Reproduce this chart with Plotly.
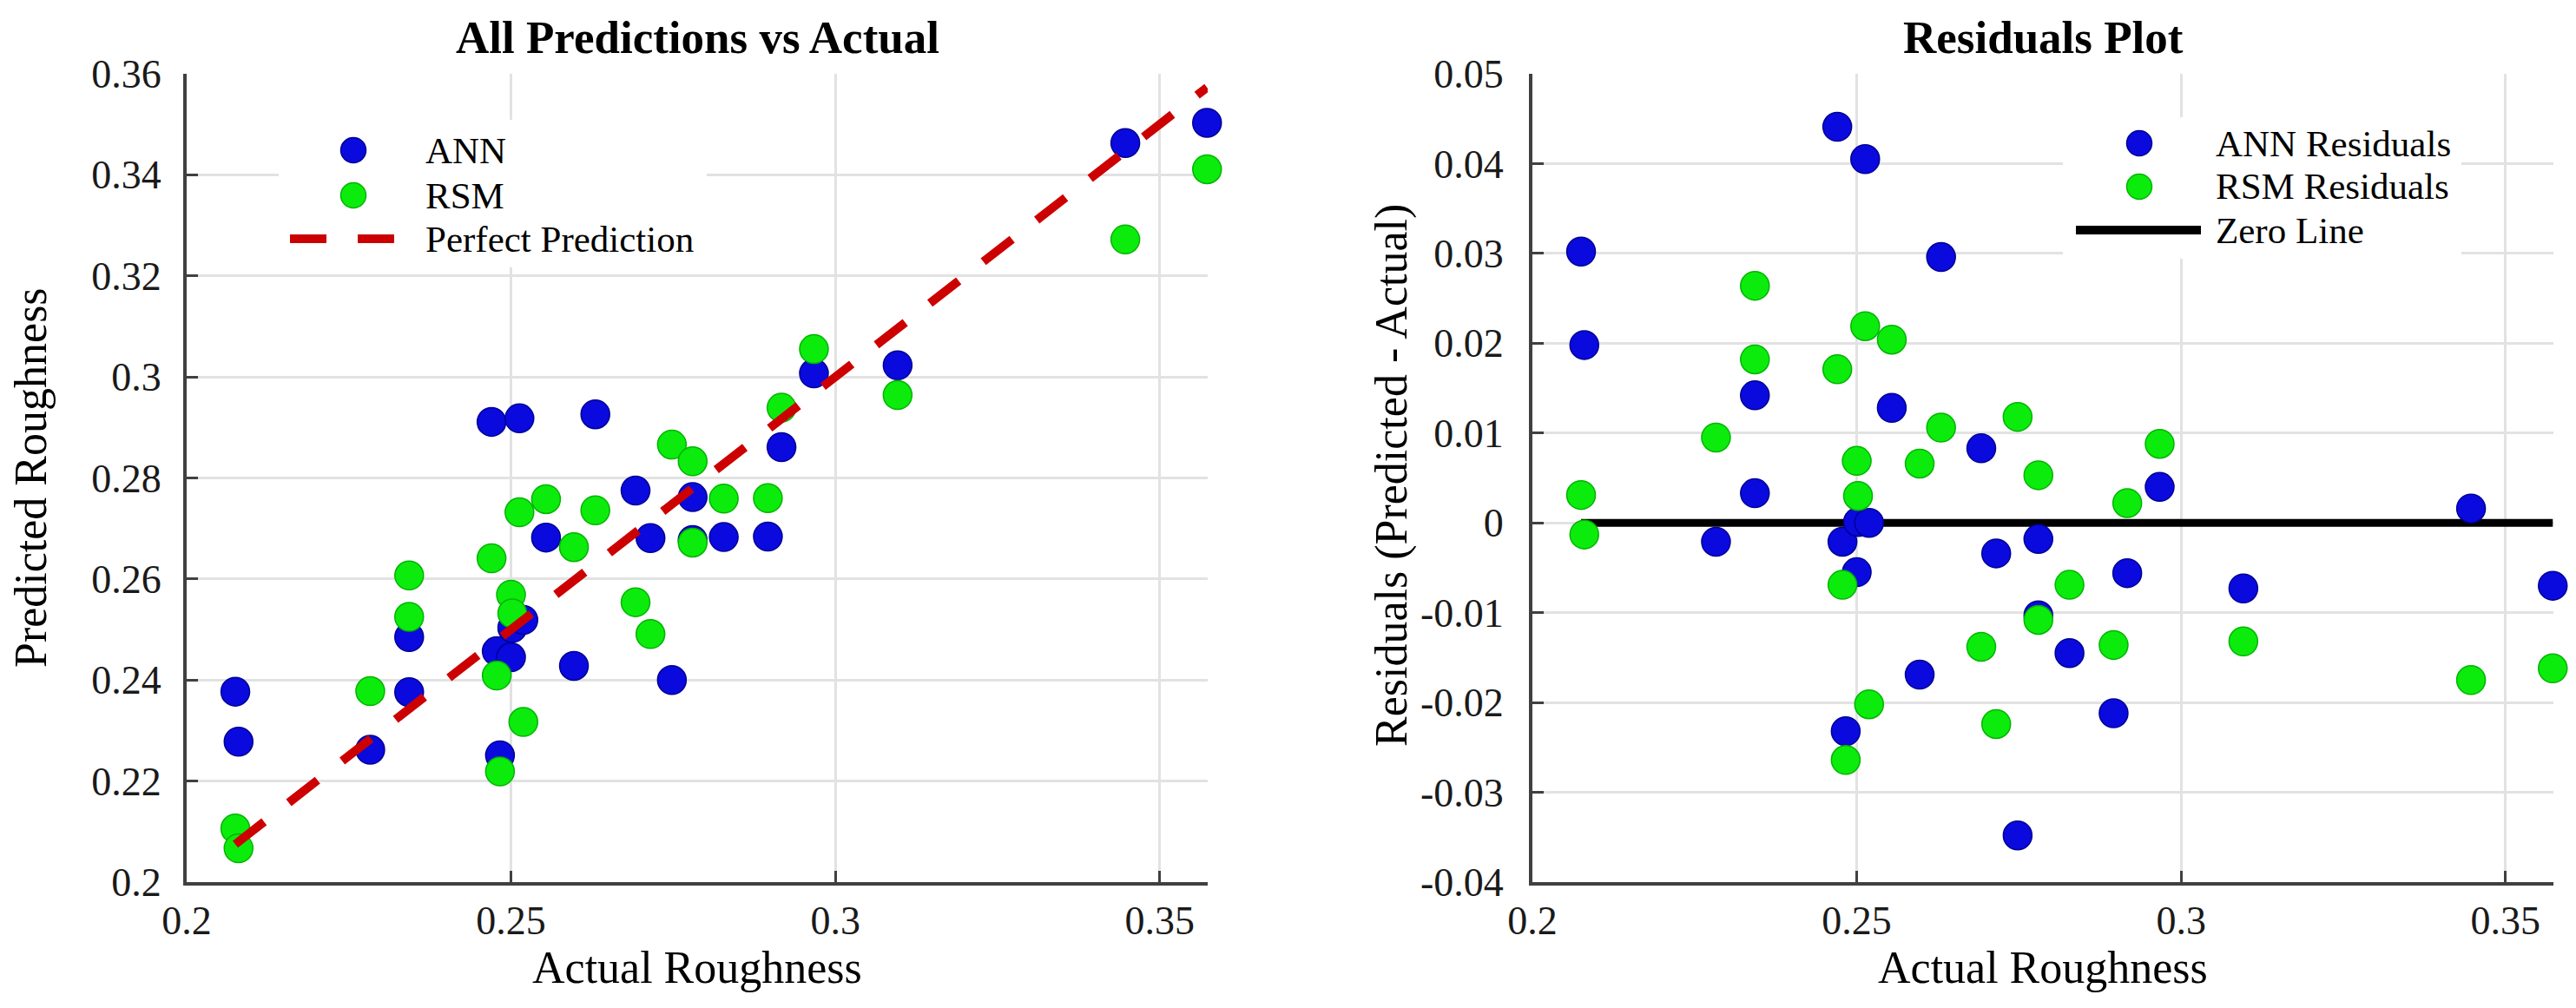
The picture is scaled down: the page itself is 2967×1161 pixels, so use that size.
import plotly.graph_objects as go

W, H = 2967, 1161

# 数据
actual = [0.2075, 0.2080, 0.2283, 0.2343, 0.2343, 0.2470, 0.2478, 0.2483, 0.2500, 0.2502,
          0.2513, 0.2519, 0.2554, 0.2597, 0.2630, 0.2692, 0.2715, 0.2748, 0.2780, 0.2780,
          0.2828, 0.2896, 0.2917, 0.2967, 0.3096, 0.3447, 0.3573]
ann_pred = [0.2377, 0.2278, 0.2262, 0.2485, 0.2376, 0.2911, 0.2457, 0.2251, 0.2445, 0.2503,
            0.2918, 0.2519, 0.2682, 0.2428, 0.2926, 0.2775, 0.2681, 0.2400, 0.2762, 0.2677,
            0.2683, 0.2684, 0.2861, 0.3007, 0.3023, 0.3463, 0.3503]
rsm_pred = [0.2106, 0.2067, 0.2378, 0.2607, 0.2525, 0.2641, 0.2409, 0.2219, 0.2569, 0.2532,
            0.2732, 0.2317, 0.2758, 0.2663, 0.2736, 0.2554, 0.2491, 0.2866, 0.2833, 0.2672,
            0.2759, 0.2760, 0.2939, 0.3055, 0.2964, 0.3272, 0.3411]

ann_res = [p - a for p, a in zip(ann_pred, actual)]
rsm_res = [p - a for p, a in zip(rsm_pred, actual)]

x_ticks = [0.2, 0.25, 0.3, 0.35]
x_ticktext = ['0.2', '0.25', '0.3', '0.35']
y1_ticks = [0.2, 0.22, 0.24, 0.26, 0.28, 0.3, 0.32, 0.34, 0.36]
y1_ticktext = ['0.2', '0.22', '0.24', '0.26', '0.28', '0.3', '0.32', '0.34', '0.36']
y2_ticks = [-0.04, -0.03, -0.02, -0.01, 0, 0.01, 0.02, 0.03, 0.04, 0.05]
y2_ticktext = ['-0.04', '-0.03', '-0.02', '-0.01', '0', '0.01', '0.02', '0.03', '0.04', '0.05']

BLUE = 'rgb(10,10,222)'
BLUE_EDGE = 'rgb(0,0,150)'
GREEN = 'rgb(12,236,12)'
GREEN_EDGE = 'rgb(0,180,0)'
RED = 'rgb(204,0,0)'
FONT = 'Liberation Serif'
DASH = '42px,36px'


def px(x):
    return x / W


def py(y):
    return 1 - y / H


lo, hi = min(actual), max(actual)

fig = go.Figure()

# 左图
fig.add_trace(go.Scatter(x=actual, y=ann_pred, mode='markers', name='ANN', cliponaxis=False,
                         marker=dict(size=33, color=BLUE, line=dict(color=BLUE_EDGE, width=1.5)),
                         xaxis='x', yaxis='y'))
fig.add_trace(go.Scatter(x=actual, y=rsm_pred, mode='markers', name='RSM', cliponaxis=False,
                         marker=dict(size=33, color=GREEN, line=dict(color=GREEN_EDGE, width=1.5)),
                         xaxis='x', yaxis='y'))
fig.add_trace(go.Scatter(x=[lo, hi], y=[lo, hi], mode='lines', name='Perfect Prediction',
                         cliponaxis=False, line=dict(color=RED, width=10, dash=DASH),
                         xaxis='x', yaxis='y'))

# 右图
fig.add_trace(go.Scatter(x=[lo, hi], y=[0, 0], mode='lines', name='Zero Line', cliponaxis=False,
                         line=dict(color='black', width=9), xaxis='x2', yaxis='y2'))
fig.add_trace(go.Scatter(x=actual, y=ann_res, mode='markers', name='ANN Residuals', cliponaxis=False,
                         marker=dict(size=33, color=BLUE, line=dict(color=BLUE_EDGE, width=1.5)),
                         xaxis='x2', yaxis='y2'))
fig.add_trace(go.Scatter(x=actual, y=rsm_res, mode='markers', name='RSM Residuals', cliponaxis=False,
                         marker=dict(size=33, color=GREEN, line=dict(color=GREEN_EDGE, width=1.5)),
                         xaxis='x2', yaxis='y2'))

axis_style = dict(showline=True, linecolor='#404040', linewidth=4, mirror=False,
                  ticks='inside', ticklen=13, tickwidth=3, tickcolor='#404040',
                  showgrid=True, gridcolor='#e2e2e2', gridwidth=2.5, zeroline=False,
                  automargin=False,
                  tickfont=dict(family=FONT, size=46, color='#1a1a1a'))

fig.update_layout(
    width=W, height=H,
    margin=dict(l=0, r=0, t=0, b=0),
    paper_bgcolor='white', plot_bgcolor='white',
    showlegend=False,
    xaxis=dict(axis_style, domain=[px(207), px(1383)], range=[0.2, 0.3574],
               tickvals=x_ticks, ticktext=x_ticktext, ticklabelstandoff=1, anchor='y'),
    yaxis=dict(axis_style, domain=[py(1008), py(77)], range=[0.2, 0.36],
               tickvals=y1_ticks, ticktext=y1_ticktext, ticklabelstandoff=16, anchor='x'),
    xaxis2=dict(axis_style, domain=[px(1757), px(2933)], range=[0.2, 0.3574],
                tickvals=x_ticks, ticktext=x_ticktext, ticklabelstandoff=1, anchor='y2'),
    yaxis2=dict(axis_style, domain=[py(1008), py(77)], range=[-0.04, 0.05],
                tickvals=y2_ticks, ticktext=y2_ticktext, ticklabelstandoff=20, anchor='x2'),
)

# 标题和轴标题
texts = [
    ('All Predictions vs Actual', 795, 35, 53, True, 0),
    ('Residuals Plot', 2345, 35, 53, True, 0),
    ('Actual Roughness', 795, 1106, 52, False, 0),
    ('Actual Roughness', 2345, 1106, 52, False, 0),
    ('Predicted Roughness', 27, 542, 52, False, -90),
    ('Residuals (Predicted - Actual)', 1595, 540, 52, False, -90),
]
for t, x, y, s, bold, ang in texts:
    fig.add_annotation(text='<b>%s</b>' % t if bold else t, x=px(x), y=py(y),
                       xref='paper', yref='paper', xanchor='center', yanchor='middle',
                       showarrow=False, textangle=ang,
                       font=dict(family=FONT, size=s, color='black'))

# 图例 (手动绘制)
shapes = []
legend_boxes = [(313, 130, 806, 300), (2368, 127, 2827, 290)]
for x0, y0, x1, y1 in legend_boxes:
    shapes.append(dict(type='rect', xref='paper', yref='paper', x0=px(x0), x1=px(x1),
                       y0=py(y1), y1=py(y0), fillcolor='white', line=dict(width=0), layer='above'))

legend_items = [
    ('ANN', 'marker', BLUE, BLUE_EDGE, 399, 165, 480),
    ('RSM', 'marker', GREEN, GREEN_EDGE, 399, 217, 480),
    ('Perfect Prediction', 'dash', RED, None, 386, 267, 480),
    ('ANN Residuals', 'marker', BLUE, BLUE_EDGE, 2456, 157, 2542),
    ('RSM Residuals', 'marker', GREEN, GREEN_EDGE, 2456, 207, 2542),
    ('Zero Line', 'solid', 'black', None, 2455, 257, 2542),
]
for name, kind, col, edge, cx, cy, tx in legend_items:
    if kind == 'marker':
        r = 14.5
        shapes.append(dict(type='circle', xref='paper', yref='paper',
                           x0=px(cx - r), x1=px(cx + r), y0=py(cy + r), y1=py(cy - r),
                           fillcolor=col, line=dict(color=edge, width=1.5), layer='above'))
    elif kind == 'dash':
        shapes.append(dict(type='line', xref='paper', yref='paper',
                           x0=px(cx - 60), x1=px(cx + 60), y0=py(cy), y1=py(cy),
                           line=dict(color=col, width=10, dash=DASH), layer='above'))
    else:
        shapes.append(dict(type='line', xref='paper', yref='paper',
                           x0=px(cx - 72), x1=px(cx + 72), y0=py(cy), y1=py(cy),
                           line=dict(color=col, width=10), layer='above'))
    fig.add_annotation(text=name, x=px(tx), y=py(cy), xref='paper', yref='paper',
                       xanchor='left', yanchor='middle', showarrow=False,
                       font=dict(family=FONT, size=43, color='black'))

fig.update_layout(shapes=shapes)

fig.write_html("out.html")
